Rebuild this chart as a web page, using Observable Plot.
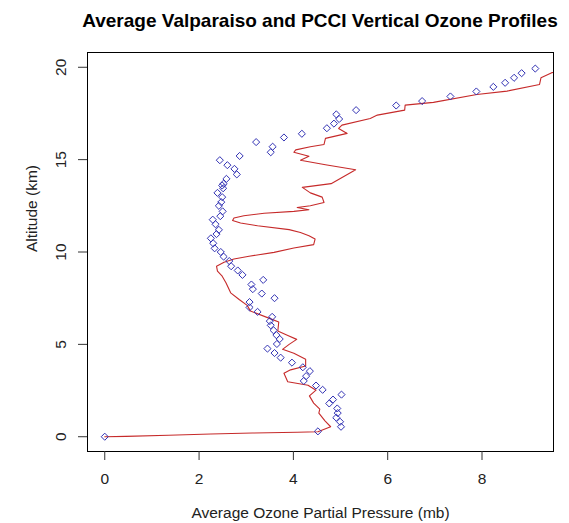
<!DOCTYPE html>
<html>
<head>
<meta charset="utf-8">
<script src="https://cdn.jsdelivr.net/npm/d3@7"></script>
<script src="https://cdn.jsdelivr.net/npm/@observablehq/plot@0.6"></script>
<style>
  html, body { margin: 0; padding: 0; background: #fff; }
  #wrap { width: 569px; height: 523px; position: relative; font-family: "Liberation Sans", Arial, sans-serif; }
  #title { box-sizing: border-box; height: 40px; padding-top: 11px; margin-left: 80px; width: 480px; text-align: center;
           font-size: 19px; line-height: 19px; font-weight: bold; color: #000; white-space: nowrap; }
</style>
</head>
<body>
<div id="wrap">
  <div id="title">Average Valparaiso and PCCI Vertical Ozone Profiles</div>
  <div id="chart"></div>
</div>
<script>
// PCCI profile (points): altitude (km) and ozone partial pressure (mb)
const pcciAlt = [0, 0.29, 0.54, 0.81, 1.03, 1.28, 1.53, 1.80, 2.01, 2.28, 2.54, 2.77, 3.02, 3.28, 3.55, 3.76, 4.01, 4.28, 4.53, 4.77,
  5.02, 5.29, 5.50, 5.76, 6.03, 6.26, 6.49, 6.76, 7.00, 7.29, 7.50, 7.75, 7.99, 8.24, 8.49, 8.76, 9.00, 9.23, 9.51, 9.75,
  10.0, 10.2, 10.47, 10.74, 10.97, 11.2, 11.5, 11.75, 11.94, 12.2, 12.5, 12.7, 12.97, 13.2, 13.45, 13.6, 13.7, 13.96, 14.2, 14.5,
  14.7, 14.97, 15.2, 15.4, 15.7, 15.95, 16.2, 16.4, 16.7, 16.95, 17.2, 17.45, 17.68, 17.93, 18.17, 18.42, 18.69, 18.94, 19.16, 19.43,
  19.68, 19.93];
const pcciPres = [0, 4.52, 5.01, 4.99, 4.91, 4.94, 4.93, 4.76, 4.84, 5.02, 4.62, 4.48, 4.22, 4.27, 4.35, 4.20, 3.97, 3.73, 3.60, 3.45,
  3.65, 3.71, 3.64, 3.58, 3.52, 3.50, 3.55, 3.24, 3.07, 3.07, 3.60, 3.33, 3.14, 3.11, 3.36, 2.92, 2.82, 2.68, 2.64, 2.52,
  2.46, 2.33, 2.30, 2.25, 2.37, 2.42, 2.35, 2.29, 2.45, 2.50, 2.42, 2.47, 2.49, 2.39, 2.51, 2.49, 2.52, 2.58, 2.80, 2.75,
  2.60, 2.44, 2.86, 3.52, 3.56, 3.21, 3.80, 4.18, 4.71, 4.86, 4.97, 4.91, 5.33, 6.18, 6.73, 7.33, 7.88, 8.24, 8.49, 8.68,
  8.84, 9.13];

// Valparaiso profile (line)
const valAlt = [0, 0.02, 0.08, 0.15, 0.20, 0.24, 0.27, 0.54, 0.86, 1.28, 1.49, 1.82, 2.21, 2.52, 2.79, 2.98, 3.44, 3.62, 3.83, 4.19,
  4.52, 4.73, 5.00, 5.27, 5.49, 5.72, 6.21, 6.38, 6.80, 7.11, 7.43, 7.79, 8.33, 8.69, 8.96, 9.23, 9.44, 9.62, 9.77, 9.98,
  10.22, 10.40, 10.70, 10.88, 11.06, 11.21, 11.42, 11.57, 11.71, 11.84, 11.96, 12.10, 12.20, 12.29, 12.41, 12.50, 12.68, 12.97, 13.20, 13.50,
  13.70, 14.45, 14.72, 14.97, 15.18, 15.40, 15.53, 15.70, 15.82, 16.15, 16.42, 16.69, 16.87, 17.23, 17.41, 17.68, 17.95, 18.10, 18.53, 18.71,
  19.07, 19.43, 19.71, 19.80];
const valPres = [0, 0.45, 1.35, 2.25, 3.13, 4.08, 4.52, 4.79, 4.67, 4.54, 4.56, 4.43, 4.34, 4.48, 4.31, 3.88, 3.80, 3.94, 4.26, 4.26,
  4.01, 3.77, 3.91, 4.07, 3.87, 3.67, 3.69, 3.52, 3.09, 3.02, 2.85, 2.67, 2.57, 2.49, 2.39, 2.37, 2.53, 2.74, 3.06, 3.59,
  4.01, 4.43, 4.46, 4.33, 4.15, 3.91, 3.24, 2.88, 2.71, 2.74, 2.95, 3.38, 4.01, 4.33, 4.08, 4.36, 4.65, 4.61, 4.36, 4.19,
  4.80, 5.32, 4.68, 4.15, 4.33, 4.01, 4.05, 4.36, 4.65, 4.68, 5.14, 4.96, 5.03, 5.63, 5.78, 6.36, 6.37, 6.97, 7.89, 8.53,
  9.22, 9.25, 9.48, 9.70];

const xTicks = [0, 2, 4, 6, 8];
const yTicks = [0, 5, 10, 15, 20];
const xLabel = "Average Ozone Partial Pressure (mb)";
const yLabel = "Altitude (km)";

const pcci = pcciAlt.map((a, i) => ({alt: a, pres: pcciPres[i]}));
const val = valAlt.map((a, i) => ({alt: a, pres: valPres[i]}));

const chart = Plot.plot({
  width: 569,
  height: 483,
  marginLeft: 87,
  marginRight: 16,
  marginTop: 12,
  marginBottom: 72,
  style: {fontFamily: "'Liberation Sans', Arial, sans-serif", fontSize: "15.5px", color: "#222", background: "#fff"},
  x: {domain: [-0.366, 9.516]},
  y: {domain: [-0.8, 20.8]},
  marks: [
    Plot.line(val, {x: "pres", y: "alt", stroke: "#c62a2a", strokeWidth: 1.1, clip: true}),
    Plot.dot(pcci, {x: "pres", y: "alt", symbol: "diamond2", r: 3.2, stroke: "#3232b4", strokeWidth: 1, fill: "none", clip: true}),
    Plot.frame({stroke: "#000", strokeWidth: 1}),
    Plot.axisX({ticks: xTicks, tickSize: 9, tickPadding: 12, tickFormat: d => String(d), label: null, stroke: "#333"}),
    Plot.axisY({ticks: yTicks, tickSize: 9, tickPadding: 13, tickRotate: -90, tickFormat: d => String(d), label: null, stroke: "#333"}),
    Plot.text([xLabel], {text: d => d, frameAnchor: "bottom", dy: 66, fontSize: 15.5}),
    Plot.text([yLabel], {text: d => d, frameAnchor: "left", dx: -55, rotate: -90, fontSize: 15.5})
  ]
});
document.getElementById("chart").appendChild(chart);
</script>
</body>
</html>
